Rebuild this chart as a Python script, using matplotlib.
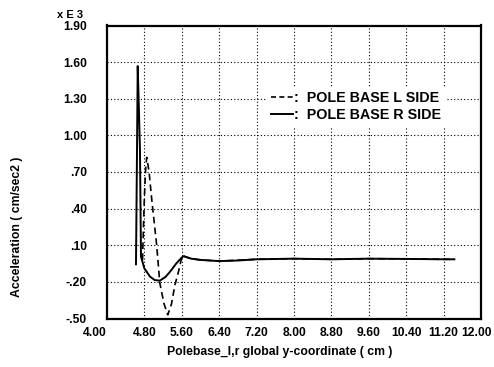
import matplotlib
matplotlib.use("Agg")
import matplotlib.pyplot as plt
from matplotlib.lines import Line2D
from matplotlib.transforms import ScaledTranslation

plt.rcParams['font.family'] = ['Liberation Sans', 'DejaVu Sans']

# R side (solid), acceleration in units of 1e3 cm/sec2
r_x = [4.62, 4.64, 4.657, 4.68, 4.705, 4.727, 4.80, 4.92, 5.02, 5.13, 5.25, 5.35, 5.48, 5.60, 5.64,
       5.80, 6.00, 6.40, 6.80, 7.20, 8.00, 8.80, 9.60, 10.40, 11.20, 11.43]
r_y = [-0.056, 0.80, 1.568, 1.25, 0.88, 0.007, -0.09, -0.157, -0.185, -0.19, -0.16, -0.116, -0.05, 0.0, 0.01,
       -0.01, -0.02, -0.03, -0.025, -0.015, -0.01, -0.015, -0.01, -0.012, -0.015, -0.015]

# L side (dashed)
l_x = [4.76, 4.78, 4.80, 4.83, 4.85, 4.90, 4.96, 5.06, 5.13, 5.22, 5.30, 5.38, 5.45, 5.54, 5.61, 5.65,
       5.80, 6.00, 6.40, 7.20, 8.00, 8.80, 9.60, 10.40, 11.20, 11.43]
l_y = [-0.02, 0.25, 0.50, 0.75, 0.82, 0.70, 0.465, 0.11, -0.21, -0.38, -0.47, -0.38, -0.23, -0.10, 0.018, 0.01,
       -0.01, -0.02, -0.03, -0.015, -0.01, -0.015, -0.01, -0.012, -0.015, -0.015]

x_ticks = [4.00, 4.80, 5.60, 6.40, 7.20, 8.00, 8.80, 9.60, 10.40, 11.20, 12.00]
x_tick_labels = ["4.00", "4.80", "5.60", "6.40", "7.20", "8.00", "8.80", "9.60", "10.40", "11.20", "12.00"]
y_ticks = [-0.50, -0.20, 0.10, 0.40, 0.70, 1.00, 1.30, 1.60, 1.90]
y_tick_labels = ["-.50", "-.20", ".10", ".40", ".70", "1.00", "1.30", "1.60", "1.90"]
series_labels = [":  POLE BASE L SIDE", ":  POLE BASE R SIDE"]

W, H = 494, 367
fig = plt.figure(figsize=(W / 100, H / 100), dpi=100)
ax = fig.add_axes([107 / W, 1 - 318.5 / H, (481 - 107) / W, (318.5 - 25.5) / H])

ax.plot(l_x, l_y, color='black', lw=1.2, linestyle=(0, (4, 2.5)))
ax.plot(r_x, r_y, color='black', lw=1.4)

ax.set_xlim(4.0, 12.0)
ax.set_ylim(-0.50, 1.90)
ax.set_xticks(x_ticks)
ax.set_xticklabels(x_tick_labels, fontsize=8.7, fontweight='bold')
ax.set_yticks(y_ticks)
ax.set_yticklabels(y_tick_labels, fontsize=8.7, fontweight='bold')
ax.tick_params(length=0, pad=6)
ax.tick_params(axis='y', pad=14.5)
xl = ax.get_xticklabels()
xl[0].set_ha('right')
xl[-1].set_transform(xl[-1].get_transform() + ScaledTranslation(-5 / 100, 0, fig.dpi_scale_trans))
ax.grid(True, color='black', linestyle=(0, (1, 2)), lw=0.8)
for s in ax.spines.values():
    s.set_linewidth(1.6)

handles = [Line2D([], [], color='black', lw=1.2, linestyle=(0, (3, 2))),
           Line2D([], [], color='black', lw=1.4)]
leg = ax.legend(handles, series_labels, loc='upper left',
                bbox_to_anchor=(260 / W, 1 - 80 / H), bbox_transform=fig.transFigure,
                frameon=True, fancybox=False, edgecolor='none', facecolor='white', framealpha=1,
                prop={'size': 10.3, 'weight': 'bold'}, handlelength=1.5, handletextpad=0.1,
                labelspacing=0.2, borderpad=0.3)

fig.text(57 / W, 1 - 15 / H, "x E 3", fontsize=8, fontweight='bold', va='center', ha='left')
fig.text(280 / W, 1 - 352 / H, "Polebase_l,r global y-coordinate ( cm )", fontsize=8.8,
         fontweight='bold', ha='center', va='center')
fig.text(17 / W, 1 - 227 / H, "Acceleration ( cm/sec2 )", fontsize=8.8, fontweight='bold',
         rotation=90, ha='center', va='center')

fig.savefig("out.png", dpi=100)
